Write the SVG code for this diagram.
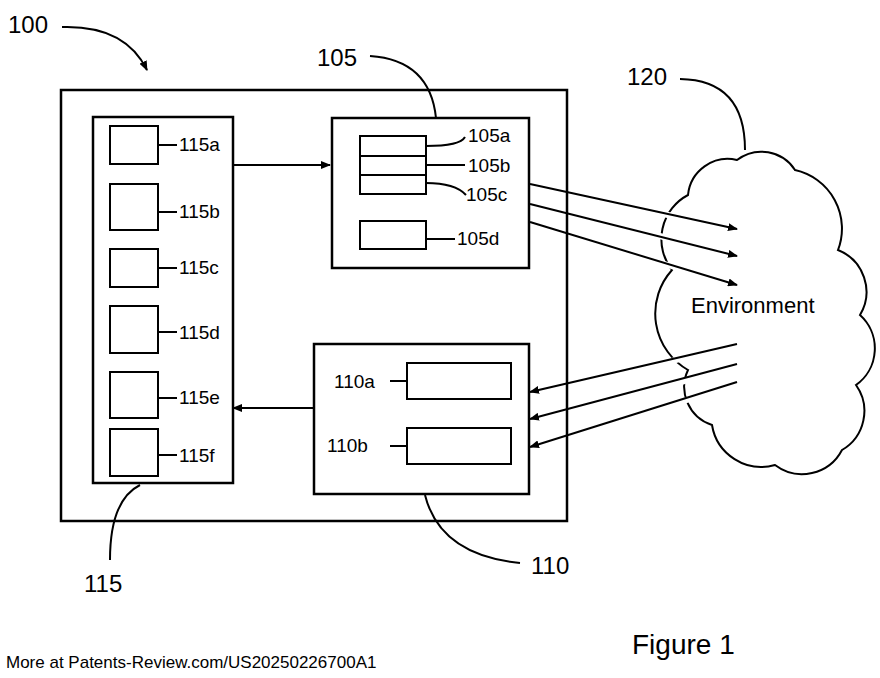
<svg xmlns="http://www.w3.org/2000/svg" width="880" height="678" viewBox="0 0 880 678">
<style>
.b{fill:none;stroke:#000;stroke-width:2.5}
.s{fill:#fff;stroke:#000;stroke-width:2}
.l{fill:none;stroke:#000;stroke-width:2}
text{font-family:"Liberation Sans",Arial,sans-serif;fill:#000}
.t{font-size:19px}
.n{font-size:24px}
</style>
<defs><marker id="a" markerWidth="10" markerHeight="8" refX="9" refY="4" orient="auto" markerUnits="userSpaceOnUse"><path d="M0,0L10,4L0,8z"/></marker></defs>
<rect width="880" height="678" fill="#fff"/>
<g id="cloud120"><path class="l" stroke-width="1.5" d="M688,195 A40,40 0 0 1 737,160 A40,40 0 0 1 795,170 A60,60 0 0 1 838,250 A45,45 0 0 1 860,315 A45,45 0 0 1 856,385 A45,45 0 0 1 842,450 A45,45 0 0 1 775,465 A50,50 0 0 1 712,425 A40,40 0 0 1 688,370 A65,65 0 0 1 672,270 A50,50 0 0 1 688,195 Z"/>
<text x="691" y="313" style="font-size:22px">Environment</text></g>
<g id="main100"><rect class="b" x="61" y="90" width="506" height="431"/></g>
<g id="block115"><rect class="b" x="93" y="117" width="140" height="366"/>
<rect class="s" x="110" y="126" width="48" height="38"/><rect class="s" x="110" y="184" width="48" height="46"/><rect class="s" x="110" y="249" width="48" height="38"/><rect class="s" x="110" y="306" width="48" height="47"/><rect class="s" x="110" y="372" width="48" height="46"/><rect class="s" x="110" y="429" width="48" height="47"/>
<path class="l" d="M158,145H177M158,212H177M158,268H177M158,332H177M158,398H177M158,455H177"/>
<g class="t"><text x="179" y="151">115a</text><text x="179" y="218">115b</text><text x="179" y="274">115c</text><text x="179" y="339">115d</text><text x="179" y="404">115e</text><text x="179" y="462">115f</text></g></g>
<g id="block105"><rect class="b" x="332" y="118" width="197" height="150"/>
<rect class="s" x="360" y="136" width="66" height="20"/><rect class="s" x="360" y="156" width="66" height="19"/><rect class="s" x="360" y="175" width="66" height="19"/><rect class="s" x="360" y="221" width="66" height="28"/>
<path class="l" d="M426,146Q460,146 465,137M426,165H465M426,183Q455,183 466,195M426,239H455"/>
<g class="t"><text x="468" y="142">105a</text><text x="468" y="172">105b</text><text x="466" y="201">105c</text><text x="457" y="245">105d</text></g></g>
<g id="block110"><rect class="b" x="314" y="344" width="215" height="150"/>
<rect class="s" x="407" y="363" width="104" height="36"/><rect class="s" x="407" y="428" width="104" height="36"/>
<path class="l" d="M390,381H407M407,446H390"/>
<g class="t"><text x="334" y="388">110a</text><text x="327" y="452">110b</text></g></g>
<g id="connectors">
<path class="l" d="M233,165H330" marker-end="url(#a)"/>
<path class="l" d="M314,408H233" marker-end="url(#a)"/>
<path stroke="#fff" stroke-width="6" d="M645,210L737,230M645,232L737,257M645,258L737,286M645,368L737,344M645,394L737,364M645,415L737,382"/>
<path class="l" d="M530,184L737,229" marker-end="url(#a)"/>
<path class="l" d="M530,204L737,256" marker-end="url(#a)"/>
<path class="l" d="M530,222L737,285" marker-end="url(#a)"/>
<path class="l" d="M737,344L530,392" marker-end="url(#a)"/>
<path class="l" d="M737,364L530,419" marker-end="url(#a)"/>
<path class="l" d="M737,382L530,447" marker-end="url(#a)"/>
<path class="l" d="M62,27Q125,25 147,70" marker-end="url(#a)"/>
<path class="l" d="M370,56Q430,60 436,118"/>
<path class="l" d="M680,79Q745,80 745,150"/>
<path class="l" d="M140,485Q110,500 110,560"/>
<path class="l" d="M425,495Q440,555 520,563"/>
</g>
<g id="labels" class="n"><text x="8" y="33">100</text><text x="317" y="66">105</text><text x="627" y="85">120</text><text x="84" y="592">115</text><text x="531" y="574">110</text>
<text x="632" y="654" style="font-size:28px">Figure 1</text>
<text x="6" y="668" style="font-size:17px">More at Patents-Review.com/US20250226700A1</text></g>
</svg>
